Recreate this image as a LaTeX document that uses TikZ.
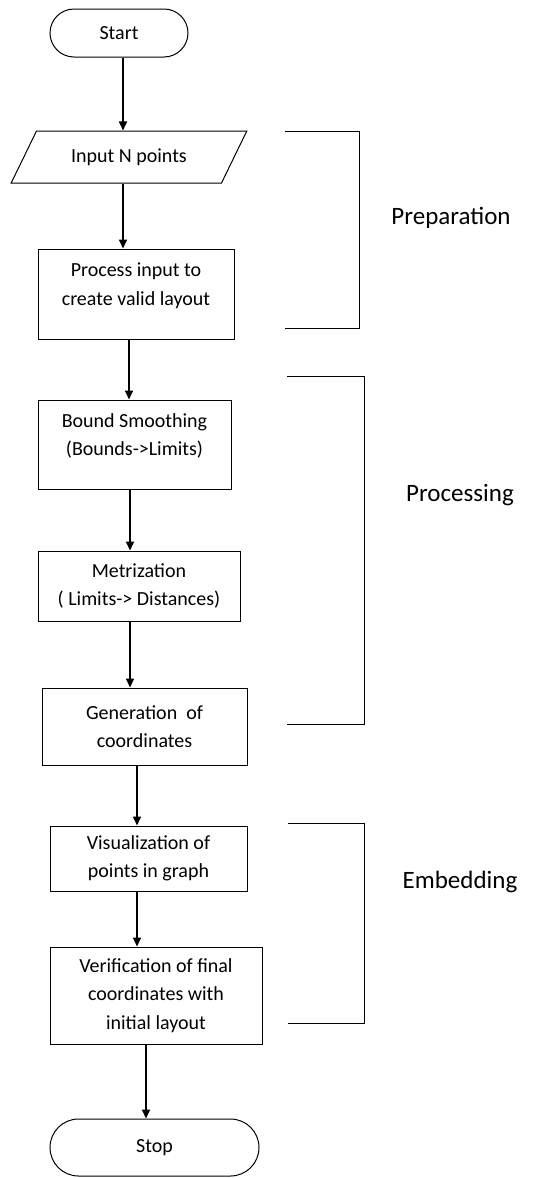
\documentclass[tikz,border=0pt]{standalone}
\usepackage{fontspec}
\setmainfont{Carlito}
\usetikzlibrary{shapes.geometric,shapes.misc,arrows.meta}

\tikzset{
  boxtext/.style={font=\fontsize{20}{28.5}\selectfont,align=center,inner sep=0pt},
  term/.style={boxtext,draw,line width=1pt,rounded rectangle},
  io/.style={boxtext,draw,line width=1pt,trapezium,trapezium left angle=47,
    trapezium right angle=133,trapezium stretches=true},
  stepbox/.style={boxtext,draw,line width=1pt,rectangle},
  flow/.style={line width=1.6pt,-{Triangle[length=9pt,width=8pt]}},
  brk/.style={line width=1pt},
  phase/.style={font=\fontsize{25}{30}\selectfont,inner sep=0pt}
}

\begin{document}
\begin{tikzpicture}[x=1pt,y=-1pt]
  \useasboundingbox (0,0) rectangle (537,1178);

  \node[term,minimum width=138,minimum height=48] (start) at (119,33) {Start};
  \node[io,minimum width=236,minimum height=52] (input) at (129,157) {Input N points};
  \node[stepbox,minimum width=196,minimum height=90] (process) at (136,294)
       {Process input to\\create valid layout\\[-9pt]\mbox{}};
  \node[stepbox,minimum width=193,minimum height=89] (smooth) at (134.5,444.5)
       {Bound Smoothing\\(Bounds->Limits)\\[-9pt]\mbox{}};
  \node[stepbox,minimum width=202,minimum height=70] (metric) at (139,586)
       {Metrization\\( Limits-> Distances)};
  \node[stepbox,minimum width=205,minimum height=77] (gen) at (144.5,726.5)
       {Generation\ \ of\\coordinates};
  \node[stepbox,minimum width=197,minimum height=65] (visual) at (148.5,858.5)
       {Visualization of\\points in graph};
  \node[stepbox,minimum width=212,minimum height=97] (verify) at (156,995.5)
       {Verification of final\\coordinates with\\initial layout};
  \node[term,minimum width=209,minimum height=57] (stop) at (154.5,1147.5) {Stop};

  \foreach \a/\b/\x in {start/input/123, input/process/123, process/smooth/129,
      smooth/metric/130, metric/gen/130, gen/visual/137, visual/verify/137,
      verify/stop/146}
    \draw[flow] (\a.south -| \x,0) -- (\b.north -| \x,0);

  \draw[brk] (285,131) -- (359,131) -- (359,328) -- (285,328);
  \draw[brk] (287,376) -- (364,376) -- (364,724) -- (287,724);
  \draw[brk] (288,823) -- (364,823) -- (364,1023) -- (288,1023);

  \node[phase] (prep) at (451,218) {Preparation};
  \node[phase] (proc) at (460,495) {Processing};
  \node[phase] (emb) at (460,882) {Embedding};
\end{tikzpicture}
\end{document}
